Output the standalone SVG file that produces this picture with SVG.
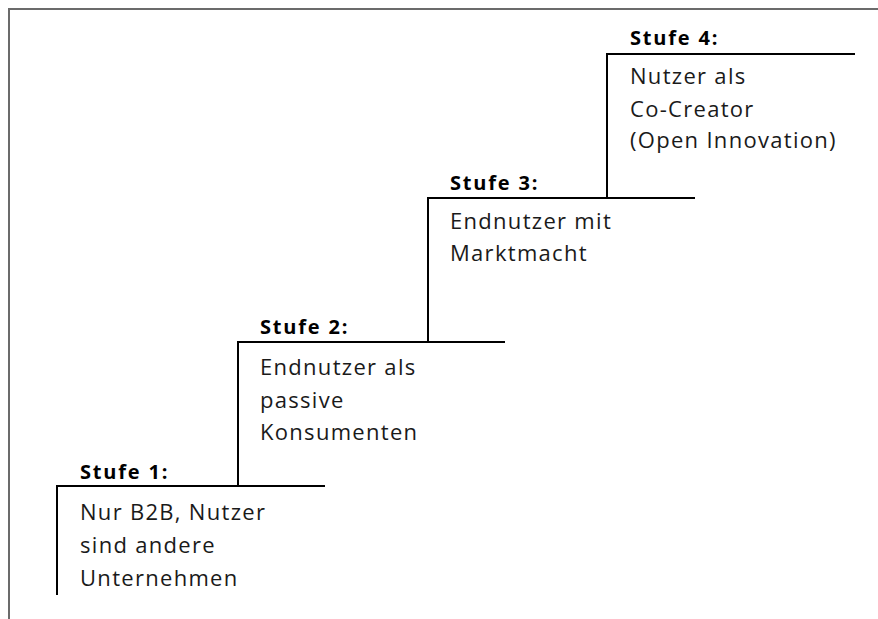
<svg xmlns="http://www.w3.org/2000/svg" width="878" height="619" viewBox="0 0 878 619">
<style>
.frame{fill:none;stroke:#6b6b6b;stroke-width:2}
.step{fill:none;stroke:#000;stroke-width:2}
.h{font-family:"Open Sans","DejaVu Sans",sans-serif;font-weight:bold;font-size:20px;letter-spacing:1.8px;fill:#000}
.t{font-family:"Open Sans","DejaVu Sans",sans-serif;font-size:22px;letter-spacing:1.3px;fill:#1a1a1a}
</style>
<rect width="878" height="619" fill="#fff"/>
<path class="frame" d="M9,619 V9 H878"/>
<g id="connectors">
<path class="step" d="M57,595 V486 H325"/>
<path class="step" d="M238,486 V342 H505"/>
<path class="step" d="M428,342 V198 H695"/>
<path class="step" d="M607,198 V54 H855"/>
</g>
<g id="stufe1">
<text class="h" x="80" y="479">Stufe 1:</text>
<text class="t" x="80" y="520">Nur B2B, Nutzer</text>
<text class="t" x="80" y="553">sind andere</text>
<text class="t" x="80" y="586">Unternehmen</text>
</g>
<g id="stufe2">
<text class="h" x="260" y="334">Stufe 2:</text>
<text class="t" x="260" y="375">Endnutzer als</text>
<text class="t" x="260" y="408">passive</text>
<text class="t" x="260" y="440">Konsumenten</text>
</g>
<g id="stufe3">
<text class="h" x="450" y="190">Stufe 3:</text>
<text class="t" x="450" y="229">Endnutzer mit</text>
<text class="t" x="450" y="261">Marktmacht</text>
</g>
<g id="stufe4">
<text class="h" x="630" y="45">Stufe 4:</text>
<text class="t" x="630" y="84">Nutzer als</text>
<text class="t" x="630" y="117">Co-Creator</text>
<text class="t" x="630" y="148">(Open Innovation)</text>
</g>
</svg>
